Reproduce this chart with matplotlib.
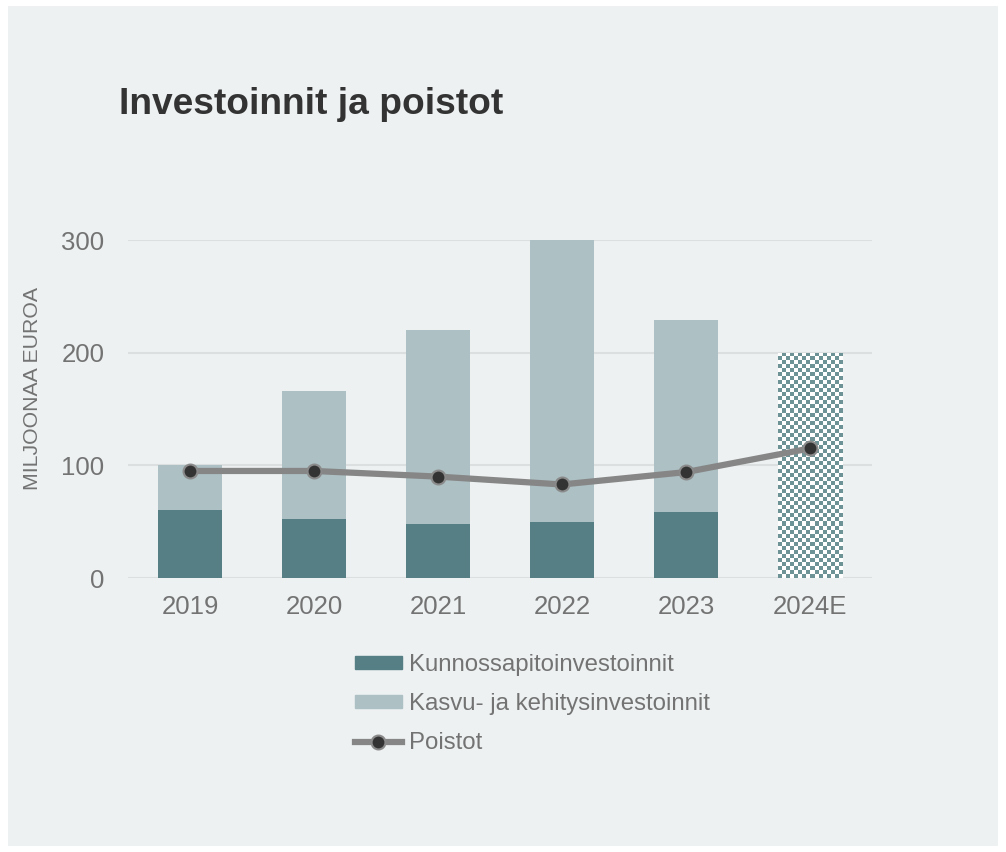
import numpy as np
import matplotlib
matplotlib.use("Agg")
import matplotlib.pyplot as plt
from matplotlib.patches import Rectangle
from matplotlib.lines import Line2D

plt.rcParams['font.family'] = ['Liberation Sans', 'DejaVu Sans']

vuodet = ['2019', '2020', '2021', '2022', '2023', '2024E']
kunnossapito = [60, 52, 48, 50, 59, 0]
kasvu = [40, 114, 172, 250, 170, 0]
arvio_2024 = [0, 0, 0, 0, 0, 200]
poistot = [95, 95, 90, 83, 94, 115]

tumma = '#557f84'
vaalea = '#adc0c4'
harmaa = '#868686'
tekstiv = '#737373'
tausta = '#edf1f2'

fig = plt.figure(figsize=(10.06, 8.52), dpi=100)
fig.patch.set_facecolor('white')
fig.patches.append(Rectangle((8 / 1006, 1 - 846 / 852), 990 / 1006, 840 / 852,
                             transform=fig.transFigure, facecolor=tausta,
                             edgecolor='none', zorder=-10))

ax = fig.add_axes([128 / 1006, 1 - 578 / 852, 744 / 1006, 338 / 852])
ax.set_facecolor('none')

x = np.arange(len(vuodet))
leveys = 0.52
b1 = ax.bar(x, kunnossapito, leveys, color=tumma, zorder=2,
            label='Kunnossapitoinvestoinnit')
b2 = ax.bar(x, kasvu, leveys, bottom=kunnossapito, color=vaalea, zorder=2,
            label='Kasvu- ja kehitysinvestoinnit')
b3 = ax.bar(x, arvio_2024, leveys, color='white', zorder=2)

# ruudukkokuvio arviovuoden pylvääseen
for p in b3.patches:
    if p.get_height() <= 0:
        continue
    x0, y0 = p.get_x(), p.get_y()
    nx, ny = 16, 56
    ruudut = (np.indices((ny, nx)).sum(axis=0) % 2).astype(float)
    cmap = matplotlib.colors.ListedColormap(['white', '#6e9396'])
    im = ax.imshow(ruudut, cmap=cmap, extent=(x0, x0 + p.get_width(), y0, y0 + p.get_height()),
                   aspect='auto', interpolation='nearest', zorder=2.5)
    im.set_clip_path(p)

ax.plot(x, poistot, color=harmaa, lw=4.5, marker='o', ms=10,
        mfc='#333333', mec='#8a8a8a', mew=1.5, zorder=4, solid_capstyle='round')

ax.set_xlim(-0.5, 5.5)
ax.set_ylim(0, 300)
ax.set_yticks([0, 100, 200, 300])
ax.set_xticks(x)
ax.set_xticklabels(vuodet)
ax.tick_params(length=0, labelsize=18.5, labelcolor=tekstiv, pad=12)
ax.tick_params(axis='y', pad=17)
ax.yaxis.grid(True, color='#dcdfdf', lw=1.5, zorder=0)
ax.set_axisbelow(True)
for s in ax.spines.values():
    s.set_visible(False)

fig.text(33 / 1006, 1 - 388 / 852, 'MILJOONAA EUROA', rotation=90, fontsize=15.3,
         color=tekstiv, ha='center', va='center')

fig.text(119 / 1006, 1 - 104 / 852, 'Investoinnit ja poistot', fontsize=26.7,
         fontweight='bold', color='#333333', ha='left', va='center')

kahvat = [Rectangle((0, 0), 1, 1, color=tumma),
          Rectangle((0, 0), 1, 1, color=vaalea),
          Line2D([], [], color=harmaa, lw=4.5, marker='o', ms=10,
                 mfc='#333333', mec='#8a8a8a', mew=1.5)]
nimet = ['Kunnossapitoinvestoinnit', 'Kasvu- ja kehitysinvestoinnit', 'Poistot']
leg = fig.legend(kahvat, nimet, loc='upper left', bbox_to_anchor=(355 / 1006, 1 - 654 / 852),
                 frameon=False, fontsize=17.3, handlelength=1.95, handleheight=0.42,
                 handletextpad=0.28, labelspacing=0.71, borderpad=0, borderaxespad=0)
for t in leg.get_texts():
    t.set_color(tekstiv)

fig.savefig('out.png', dpi=100, facecolor=fig.get_facecolor())
